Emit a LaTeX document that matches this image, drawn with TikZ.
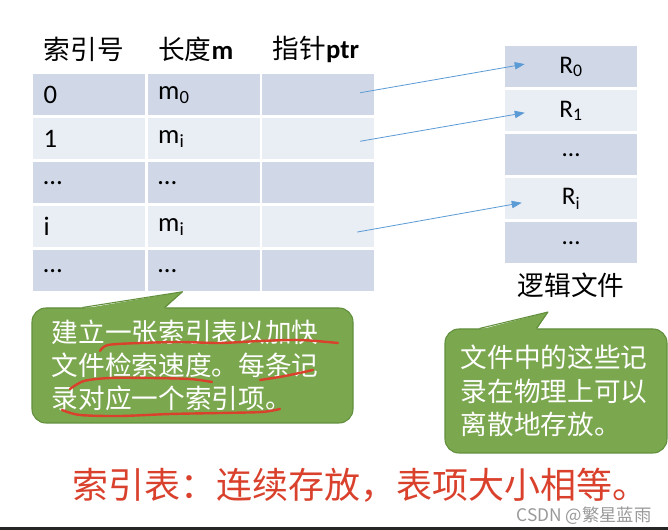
\documentclass[tikz,border=0pt]{standalone}
\usepackage{fontspec}
\setmainfont{Carlito}
\newfontfamily\cjk{Noto Sans CJK SC}
\usetikzlibrary{positioning}
\usetikzlibrary{arrows.meta}
\definecolor{rowdark}{HTML}{D0D8E8}
\definecolor{rowlight}{HTML}{E9EDF4}
\definecolor{ptrblue}{HTML}{5B9BD5}
\definecolor{notegreen}{HTML}{7BA74F}
\definecolor{noteedge}{HTML}{628F3C}
\definecolor{penred}{HTML}{D9412C}

\begin{document}
\begin{tikzpicture}
			[x=0.75pt,y=-0.75pt,
			 cell/.style={rectangle,minimum height=31.1pt,text width=68pt,inner xsep=8pt,align=left,
			   font=\fontsize{20pt}{24pt}\selectfont},
			 dark/.style={cell,fill=rowdark},
			 light/.style={cell,fill=rowlight},
			 head/.style={cell,minimum height=30pt,inner ysep=0pt},
			 rec/.style={rectangle,minimum width=99pt,minimum height=31.1pt,inner sep=0pt,
			   font=\fontsize{19pt}{22pt}\selectfont},
			 ptr/.style={draw=ptrblue,line width=0.6pt,-{Triangle[length=7.5pt,width=5.5pt]}},
			 note/.style={rectangle,rounded corners=10.5pt,fill=notegreen,draw=noteedge,line width=0.8pt,
			   text=white,align=left,font=\cjk\fontsize{20pt}{25pt}\selectfont},
			 wedge/.style={draw=noteedge,line width=0.8pt,line join=round},
			 pen/.style={draw=penred,line width=1.8pt,line cap=round,line join=round},
		   node distance=1.5pt]
			\useasboundingbox (0,0) rectangle (668,530);
			\fill[white] (0,0) rectangle (668,530);

			\node[dark] (a0) at (89,94.75) {0};
			\node[dark] (b0) [right=of a0] {m\textsubscript{0}};
			\node[dark] (c0) [right=of b0] {};
			\node[light] (a1) [below=of a0] {1};
			\node[light] (b1) [below=of b0] {m\textsubscript{i}};
			\node[light] (c1) [below=of c0] {};
			\node[dark] (a2) [below=of a1] {…};
			\node[dark] (b2) [below=of b1] {…};
			\node[dark] (c2) [below=of c1] {};
			\node[light] (a3) [below=of a2] {i};
			\node[light] (b3) [below=of b2] {m\textsubscript{i}};
			\node[light] (c3) [below=of c2] {};
			\node[dark] (a4) [below=of a3] {…};
			\node[dark] (b4) [below=of b3] {…};
			\node[dark] (c4) [below=of c3] {};
			\node[head] (h1) [above=3pt of a0] {\cjk 索引号};
			\node[head] (h2) [above=3pt of b0] {{\cjk 长度}\textbf{m}};
			\node[head] (h3) [above=3pt of c0] {{\cjk 指针}\textbf{ptr}};

			\node[rec,fill=rowdark] (r0) at (571,66.75) {R\textsubscript{0}};
			\node[rec,fill=rowlight] (r1) [below=of r0] {R\textsubscript{1}};
			\node[rec,fill=rowdark] (r2) [below=of r1] {…};
			\node[rec,fill=rowlight] (r3) [below=of r2] {R\textsubscript{i}};
			\node[rec,fill=rowdark] (r4) [below=of r3] {…};
			\node[inner sep=0pt,font=\cjk\fontsize{20pt}{24pt}\selectfont] (file) [below=7pt of r4] {逻辑文件};

			\coordinate (p0) at ([xshift=31.5pt,yshift=1.5pt]c0.center);
			\coordinate (q0) at ([xshift=15pt,yshift=2pt]r0.west);
			\coordinate (p1) at ([xshift=31.5pt,yshift=-1.9pt]c1.center);
			\coordinate (q1) at ([xshift=15pt,yshift=-1.5pt]r1.west);
			\coordinate (p3) at ([xshift=29.25pt,yshift=-4pt]c3.center);
			\coordinate (q3) at ([xshift=12.75pt,yshift=-3pt]r3.west);
			\draw[ptr] (p0) -- (q0);
			\draw[ptr] (p1) -- (q1);
			\draw[ptr] (p3) -- (q3);

			\node[note,minimum width=240.75pt,minimum height=86.25pt,text width=211pt,inner xsep=14pt]
			  (note1) at (192.5,365.5) {建立一张索引表以加快\\文件检索速度。每条记\\录对应一个索引项。};
			\coordinate (tip1) at ([xshift=-15.75pt]b4.south);
			\fill[notegreen] ([xshift=38.25pt,yshift=-1pt]note1.north west) -- (tip1)
			  -- ([xshift=99.75pt,yshift=-1pt]note1.north west) -- cycle;
			\draw[wedge] ([xshift=38.25pt]note1.north west) -- (tip1) -- ([xshift=99.75pt]note1.north west);

			\node[note,minimum width=166.5pt,minimum height=93pt,text width=143pt,inner xsep=10pt]
			  (note2) at (556,391) {文件中的这些记\\录在物理上可以\\离散地存放。};
			\coordinate (tip2) at (548,312);
			\fill[notegreen] ([xshift=26.25pt,yshift=-1pt]note2.north west) -- (tip2)
			  -- ([xshift=69pt,yshift=-1pt]note2.north west) -- cycle;
			\draw[wedge] ([xshift=26.25pt]note2.north west) -- (tip2) -- ([xshift=69pt]note2.north west);

			\draw[pen] plot[smooth] coordinates {(100,351) (108,345) (140,343) (180,342) (220,343) (260,341) (300,340) (338,343)};
			\draw[pen] plot[smooth] coordinates {(70,389) (84,381) (110,378) (150,378) (190,379) (212,382)};
			\draw[pen] plot[smooth] coordinates {(260,380) (285,376) (313,370)};
			\draw[pen] plot[smooth] coordinates {(62,410) (80,415) (120,416) (170,414) (220,413) (262,412) (280,409)};

			\node[inner sep=0pt,anchor=west,text=penred,font=\cjk\fontsize{27pt}{30pt}\selectfont]
			  (summary) at (72,485) {索引表：连续存放，表项大小相等。};
			\node[inner sep=0pt,text=black!40,font=\cjk\fontsize{13pt}{15pt}\selectfont]
			  (mark) at (584,516) {CSDN @繁星蓝雨};
			\fill[black!85] (0,527) rectangle (668,530);
	  \end{tikzpicture}
\end{document}
